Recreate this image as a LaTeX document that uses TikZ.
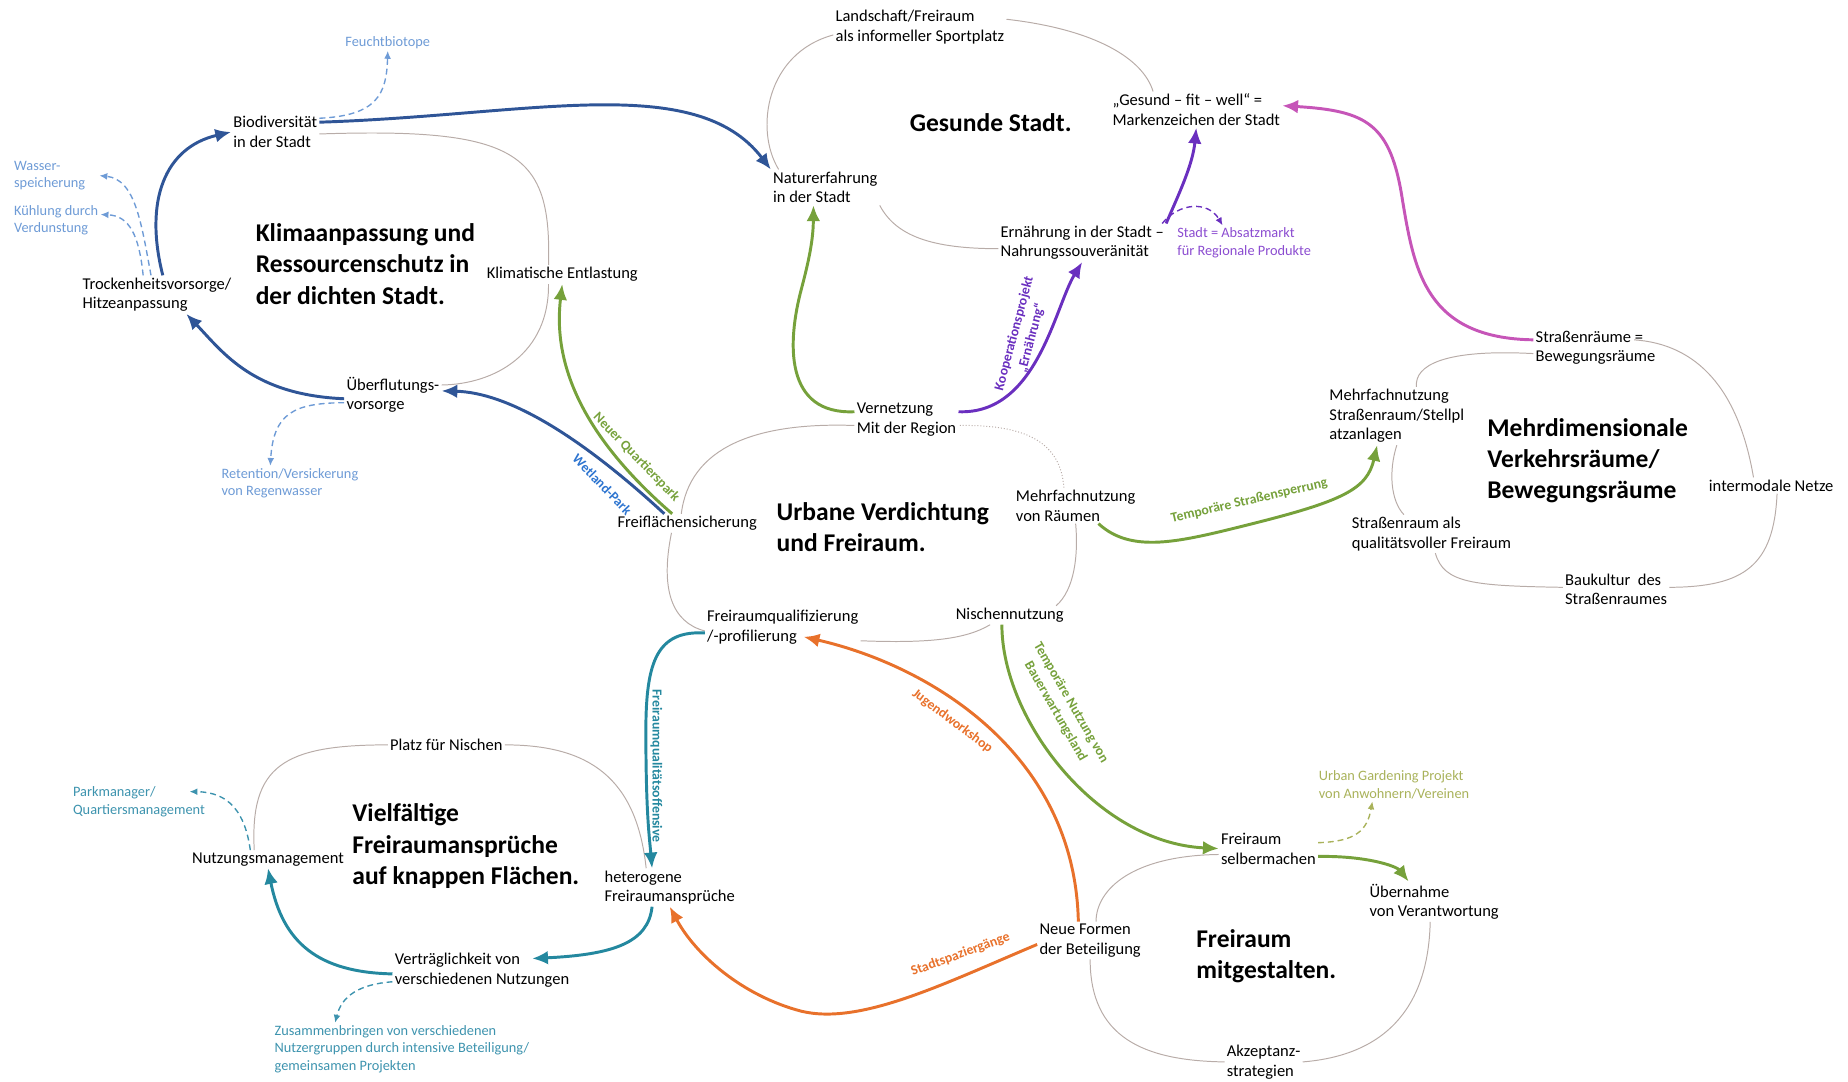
\documentclass[tikz,border=0pt]{standalone}
\usepackage{fontspec}
\setmainfont{Carlito}
\usetikzlibrary{arrows.meta, positioning}

\definecolor{flowblue}{HTML}{2F5597}
\definecolor{tagblue}{HTML}{2E75D0}
\definecolor{noteblue}{HTML}{6E9BD6}
\definecolor{flowgreen}{HTML}{76A13B}
\definecolor{flowpurple}{HTML}{6A2FBF}
\definecolor{notepurple}{HTML}{8B4CD0}
\definecolor{flowmagenta}{HTML}{C655B8}
\definecolor{flowteal}{HTML}{24889F}
\definecolor{noteteal}{HTML}{3D93AE}
\definecolor{floworange}{HTML}{E8712B}
\definecolor{noteolive}{HTML}{A9B25A}
\definecolor{ringgray}{HTML}{B8ACA8}

\begin{document}
\begin{tikzpicture}[
    x=0.6pt, y=-0.6pt,
    clustertitle/.style={anchor=west, align=left, inner sep=1pt, font=\fontsize{13}{15.9}\selectfont\bfseries},
    term/.style={anchor=west, align=left, inner sep=1pt, font=\fontsize{8.4}{10}\selectfont},
    sidenote/.style={anchor=west, align=left, inner sep=1pt, font=\fontsize{7.3}{9}\selectfont},
    arrowtag/.style={inner sep=0.5pt, align=center, font=\fontsize{7}{9}\selectfont\bfseries},
    flow/.style={line width=1.5pt, -{Latex[length=8pt,width=7pt]}},
    hintarrow/.style={line width=0.7pt, dash pattern=on 3pt off 2pt, -{Latex[length=4pt,width=3.5pt]}},
    ring/.style={draw=ringgray, line width=0.5pt}
]
\useasboundingbox (0,0) rectangle (1568,918);

% Cluster titles
\node[clustertitle] (t_gesund) at (770,104) {Gesunde Stadt.};
\node[clustertitle] (t_klima) at (215,224) {Klimaanpassung und\\Ressourcenschutz in\\der dichten Stadt.};
\node[clustertitle] (t_urban) at (657,447) {Urbane Verdichtung\\und Freiraum.};
\node[clustertitle] (t_verkehr) at (1260,391) {Mehrdimensionale\\Verkehrsräume/\\Bewegungsräume};
\node[clustertitle] (t_vielfalt) at (297,718) {Vielfältige\\Freiraumansprüche\\auf knappen Flächen.};
\node[clustertitle] (t_mitgestalt) at (1013,811) {Freiraum\\mitgestalten.};

% Gesunde Stadt
\node[term] (landschaft) at (707,23) {Landschaft/Freiraum\\als informeller Sportplatz};
\node[term] (gesund) at (942,93) {„Gesund – fit – well“ =\\Markenzeichen der Stadt};
\node[term] (natur) at (654,159) {Naturerfahrung\\in der Stadt};
\node[term] (ernaehrung) at (847,206) {Ernährung in der Stadt –\\Nahrungssouveränität};
\node[sidenote, text=notepurple] (absatz) at (997,206) {Stadt = Absatzmarkt\\für Regionale Produkte};

% Klimaanpassung
\node[term] (bio) at (196,112) {Biodiversität\\in der Stadt};
\node[term] (trocken) at (68,250) {Trockenheitsvorsorge/\\Hitzeanpassung};
\node[term] (klimaent) at (411,233) {Klimatische Entlastung};
\node[term] (ueberflut) at (292,335) {Überflutungs-\\vorsorge};
\node[sidenote, text=noteblue, anchor=center] (feucht) at (329,36) {Feuchtbiotope};
\node[sidenote, text=noteblue] (wasser) at (10,149) {Wasser-\\speicherung};
\node[sidenote, text=noteblue] (kuehlung) at (10,187) {Kühlung durch\\Verdunstung};
\node[sidenote, text=noteblue] (retention) at (186,410) {Retention/Versickerung\\von Regenwasser};

% Urbane Verdichtung
\node[term] (vernetzung) at (725,356) {Vernetzung\\Mit der Region};
\node[term] (freiflaeche) at (522,444) {Freiflächensicherung};
\node[term] (mehrfach) at (860,429) {Mehrfachnutzung\\von Räumen};
\node[term] (nischen) at (809,522) {Nischennutzung};
\node[term] (qualifiz) at (598,532) {Freiraumqualifizierung\\/-profilierung};

% Verkehrsraeume
\node[term] (strassenmehr) at (1126,353) {Mehrfachnutzung\\Straßenraum/Stellpl\\atzanlagen};
\node[term] (strassenraeume) at (1301,295) {Straßenräume =\\Bewegungsräume};
\node[term] (intermodal) at (1448,412) {intermodale Netze};
\node[term] (strassenfrei) at (1145,453) {Straßenraum als\\qualitätsvoller Freiraum};
\node[term] (baukultur) at (1326,500) {Baukultur\ \ des\\Straßenraumes};

% Vielfaeltige Freiraumansprueche
\node[term] (platz) at (329,632) {Platz für Nischen};
\node[term] (nutzmgmt) at (161,729) {Nutzungsmanagement};
\node[term] (hetero) at (511,753) {heterogene\\Freiraumansprüche};
\node[term] (vertraeglich) at (333,823) {Verträglichkeit von\\verschiedenen Nutzungen};
\node[sidenote, text=noteteal] (parkmgr) at (60,680) {Parkmanager/\\Quartiersmanagement};
\node[sidenote, text=noteteal] (zusammen) at (231,890) {Zusammenbringen von verschiedenen\\Nutzergruppen durch intensive Beteiligung/\\gemeinsamen Projekten};

% Freiraum mitgestalten
\node[term] (selber) at (1034,720) {Freiraum\\selbermachen};
\node[term] (uebernahme) at (1160,765) {Übernahme\\von Verantwortung};
\node[term] (neueformen) at (880,798) {Neue Formen\\der Beteiligung};
\node[term] (akzeptanz) at (1039,901) {Akzeptanz-\\strategien};
\node[sidenote, text=noteolive] (gardening) at (1117,666) {Urban Gardening Projekt\\von Anwohnern/Vereinen};

% Cluster rings
\draw[ring] ([yshift=-1pt]bio.east) .. controls (440,108) and (468,130) .. ([xshift=-7pt]klimaent.north);
\draw[ring] ([xshift=-7pt]klimaent.south) .. controls (466,300) and (420,326) .. ([yshift=5pt]ueberflut.east);
\draw[ring] ([xshift=4pt]natur.north west) .. controls (640,110) and (650,45) .. ([yshift=-4pt]landschaft.west);
\draw[ring] ([yshift=4pt]landschaft.east) .. controls (930,25) and (970,50) .. ([xshift=-22pt]gesund.north);
\draw[ring] (natur.south east) .. controls (760,200) and (790,211) .. ([yshift=-3pt]ernaehrung.west);
\draw[ring] ([yshift=-3pt]vernetzung.west) .. controls (640,358) and (585,380) .. ([xshift=-3pt]freiflaeche.north);
\draw[ring] ([xshift=-8pt]freiflaeche.south) .. controls (560,500) and (570,528) .. ([yshift=-2pt]qualifiz.west);
\draw[ring] ([yshift=-7pt]qualifiz.east) .. controls (790,546) and (820,542) .. ([xshift=-10pt]nischen.south);
\draw[ring] ([xshift=-5pt]nischen.north east) .. controls (912,500) and (915,470) .. (mehrfach.south);
\draw[ring, densely dotted] ([xshift=-6pt]mehrfach.north) .. controls (900,375) and (870,360) .. ([yshift=-3pt]vernetzung.east);
\draw[ring] ([yshift=-3pt]strassenraeume.west) .. controls (1225,296) and (1200,310) .. ([xshift=10pt]strassenmehr.north);
\draw[ring] (strassenmehr.south) .. controls (1178,400) and (1180,425) .. ([xshift=-14pt]strassenfrei.north);
\draw[ring] ([xshift=2pt]strassenfrei.south) .. controls (1225,495) and (1250,497) .. ([yshift=1pt]baukultur.west);
\draw[ring] ([yshift=1pt]baukultur.east) .. controls (1480,498) and (1505,480) .. ([xshift=3pt]intermodal.south);
\draw[ring] ([xshift=-9pt]intermodal.north) .. controls (1475,330) and (1440,292) .. ([xshift=-12pt,yshift=4pt]strassenraeume.east);
\draw[ring] (platz.west) .. controls (240,632) and (212,650) .. ([xshift=-7pt]nutzmgmt.north);
\draw[ring] (platz.east) .. controls (500,632) and (540,660) .. ([xshift=-12pt]hetero.north);
\draw[ring] ([yshift=-3pt]selber.west) .. controls (960,726) and (930,755) .. ([xshift=3pt]neueformen.north);
\draw[ring] (neueformen.south) .. controls (925,880) and (970,900) .. (akzeptanz.west);
\draw[ring] (akzeptanz.east) .. controls (1180,895) and (1212,850) .. ([xshift=-2pt]uebernahme.south);

% Blue connectors
\draw[flow, flowblue] ([yshift=5pt]bio.east) .. controls (450,98) and (590,60) .. (natur.north west);
\draw[flow, flowblue] ([xshift=3pt]trocken.north) .. controls (122,170) and (140,125) .. (bio.west);
\draw[flow, flowblue] ([yshift=-2pt]ueberflut.west) .. controls (215,335) and (190,300) .. ([xshift=15pt]trocken.south);
\draw[flow, flowblue] ([xshift=25pt]freiflaeche.north west) .. controls (490,368) and (430,333) .. ([yshift=2pt]ueberflut.east);
\draw[hintarrow, noteblue] ([yshift=7pt]bio.east) .. controls (320,98) and (328,80) .. (feucht.south);
\draw[hintarrow, noteblue] ([xshift=-3pt]trocken.north) .. controls (120,190) and (115,152) .. ([xshift=6pt]wasser.east);
\draw[hintarrow, noteblue] ([xshift=-7pt]trocken.north) .. controls (118,200) and (110,183) .. ([yshift=3pt]kuehlung.east);
\draw[hintarrow, noteblue] ([yshift=-4pt]ueberflut.west) .. controls (250,342) and (232,350) .. ([xshift=26pt]retention.north west);

% Green connectors
\draw[flow, flowgreen] ([xshift=29pt]freiflaeche.north west) .. controls (485,362) and (470,300) .. (klimaent.south);
\draw[flow, flowgreen] ([yshift=4pt]vernetzung.west) .. controls (665,352) and (668,290) .. (680,245) .. controls (688,215) and (690,200) .. ([xshift=-6pt]natur.south);
\draw[flow, flowgreen] ([xshift=-20pt]mehrfach.south east) .. controls (960,470) and (1000,460) .. (1060,445) .. controls (1140,425) and (1160,415) .. ([xshift=-10pt]strassenmehr.south);
\draw[flow, flowgreen] ([xshift=-4pt]nischen.south) .. controls (850,610) and (930,715) .. (selber.west);
\draw[flow, flowgreen] ([yshift=-4pt]selber.east) .. controls (1160,726) and (1185,735) .. ([xshift=-13pt]uebernahme.north);
\draw[hintarrow, noteolive] ([yshift=3pt]selber.east) .. controls (1150,714) and (1160,705) .. ([xshift=-11pt]gardening.south);

% Purple and magenta connectors
\draw[flow, flowpurple] ([yshift=4pt]vernetzung.east) .. controls (880,352) and (895,260) .. (ernaehrung.south);
\draw[flow, flowpurple] (ernaehrung.north east) .. controls (1000,165) and (1012,140) .. (gesund.south);
\draw[hintarrow, flowpurple] ([xshift=-2pt]ernaehrung.north east) .. controls (1000,172) and (1025,170) .. ([xshift=-11pt]absatz.north);
\draw[flow, flowmagenta] ([yshift=4pt]strassenraeume.west) .. controls (1210,287) and (1200,230) .. (1190,170) .. controls (1180,105) and (1160,94) .. ([yshift=2pt]gesund.east);

% Teal connectors
\draw[flow, flowteal] ([yshift=-3pt]qualifiz.west) .. controls (558,535) and (548,560) .. (548,620) .. controls (548,690) and (551,710) .. ([xshift=-9pt]hetero.north);
\draw[flow, flowteal] ([xshift=-9pt]hetero.south) .. controls (550,800) and (520,810) .. ([xshift=-20pt,yshift=-4pt]vertraeglich.north east);
\draw[flow, flowteal] ([yshift=-2pt]vertraeglich.west) .. controls (270,825) and (240,800) .. (nutzmgmt.south);
\draw[hintarrow, noteteal] ([xshift=-9pt]nutzmgmt.north) .. controls (208,690) and (195,672) .. ([xshift=-9pt,yshift=5pt]parkmgr.east);
\draw[hintarrow, noteteal] ([yshift=-6pt]vertraeglich.west) .. controls (305,835) and (290,845) .. ([xshift=32pt]zusammen.north west);

% Orange connectors
\draw[flow, floworange] ([xshift=-6pt]neueformen.north) .. controls (912,640) and (790,565) .. ([xshift=-29pt,yshift=-5pt]qualifiz.east);
\draw[flow, floworange] ([yshift=-2pt]neueformen.west) .. controls (800,835) and (730,870) .. (680,858) .. controls (630,845) and (590,810) .. (hetero.south);

% Connector tags
\node[arrowtag, text=flowgreen, rotate=-46] (tag_quartier) at (540,388) {Neuer Quartierspark};
\node[arrowtag, text=tagblue, rotate=-46] (tag_wetland) at (511,411) {Wetland-Park};
\node[arrowtag, text=flowpurple, rotate=75] (tag_koop) at (868,285) {Kooperationsprojekt\\„Ernährung“};
\node[arrowtag, text=flowgreen, rotate=13] (tag_sperrung) at (1060,425) {Temporäre Straßensperrung};
\node[arrowtag, text=flowgreen, rotate=-60] (tag_bauerw) at (902,600) {Temporäre Nutzung von\\Bauerwartungsland};
\node[arrowtag, text=floworange, rotate=-37] (tag_jugend) at (808,612) {Jugendworkshop};
\node[arrowtag, text=flowteal, rotate=-90] (tag_offensive) at (557,650) {Freiraumqualitätsoffensive};
\node[arrowtag, text=floworange, rotate=20] (tag_spazier) at (815,810) {Stadtspaziergänge};

\end{tikzpicture}
\end{document}
